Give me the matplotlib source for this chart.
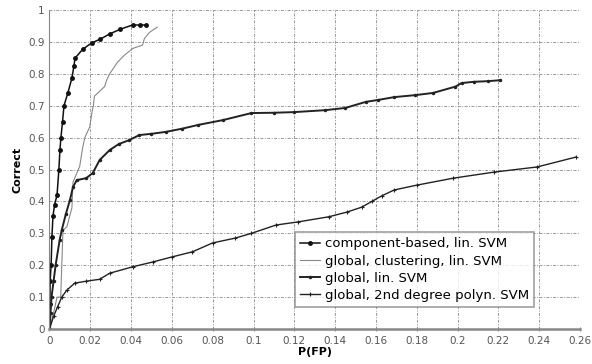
import matplotlib
matplotlib.use("Agg")
import matplotlib.pyplot as plt
import numpy as np

# ROC-like curves
comp_x = [0, 0.0002, 0.0003, 0.0008, 0.0012, 0.0017, 0.0025, 0.0037, 0.0046, 0.0051,
          0.0056, 0.0064, 0.0071, 0.009, 0.011, 0.012, 0.0125, 0.0163, 0.0207, 0.025,
          0.0295, 0.0348, 0.0407, 0.0445, 0.0475]
comp_y = [0, 0.08, 0.15, 0.2, 0.29, 0.354, 0.39, 0.42, 0.5, 0.56,
          0.6, 0.65, 0.7, 0.74, 0.787, 0.825, 0.849, 0.877, 0.897, 0.909,
          0.925, 0.94, 0.953, 0.953, 0.953]

clust_x = [0, 0.002, 0.0037, 0.0055, 0.0066, 0.0085, 0.011, 0.0115, 0.0148, 0.0163,
           0.0173, 0.0197, 0.021, 0.0215, 0.022, 0.0237, 0.027, 0.028, 0.0295, 0.0334,
           0.037, 0.041, 0.0456, 0.0465, 0.049, 0.0528]
clust_y = [0, 0.05, 0.1, 0.1, 0.31, 0.32, 0.38, 0.46, 0.51, 0.57,
           0.6, 0.633, 0.686, 0.7, 0.73, 0.74, 0.76, 0.78, 0.80, 0.837,
           0.86, 0.88, 0.89, 0.91, 0.93, 0.946]

glin_x = [0, 0.0005, 0.001, 0.002, 0.003, 0.005, 0.006, 0.008, 0.01, 0.0115,
          0.0134, 0.018, 0.0212, 0.0246, 0.0295, 0.034, 0.039, 0.044, 0.05, 0.057,
          0.065, 0.073, 0.085, 0.099, 0.11, 0.12, 0.135, 0.145, 0.155, 0.161,
          0.169, 0.179, 0.188, 0.199, 0.202, 0.208, 0.215, 0.221]
glin_y = [0, 0.05, 0.1, 0.15, 0.2, 0.28, 0.31, 0.36, 0.404, 0.445,
          0.467, 0.473, 0.489, 0.53, 0.561, 0.58, 0.592, 0.608, 0.612, 0.618,
          0.628, 0.64, 0.655, 0.677, 0.678, 0.68, 0.686, 0.693, 0.712, 0.718,
          0.727, 0.733, 0.74, 0.76, 0.771, 0.775, 0.777, 0.78]

poly_x = [0, 0.002, 0.004, 0.006, 0.0085, 0.0124, 0.018, 0.0246, 0.0295, 0.0407,
          0.0505, 0.060, 0.070, 0.080, 0.091, 0.099, 0.111, 0.122, 0.137, 0.146,
          0.153, 0.158, 0.163, 0.169, 0.180, 0.198, 0.218, 0.239, 0.258]
poly_y = [0, 0.04, 0.07, 0.1, 0.122, 0.144, 0.15, 0.156, 0.175, 0.195,
          0.21, 0.226, 0.242, 0.27, 0.285, 0.30, 0.326, 0.336, 0.352, 0.367,
          0.382, 0.40, 0.418, 0.436, 0.451, 0.473, 0.492, 0.508, 0.539]

labels = ["component-based, lin. SVM", "global, clustering, lin. SVM",
          "global, lin. SVM", "global, 2nd degree polyn. SVM"]

xticks = np.arange(0, 0.261, 0.02)
yticks = np.arange(0, 1.01, 0.1)

fig = plt.figure(figsize=(5.92, 3.64), dpi=100)
ax = fig.add_axes([0.0836, 0.096, 0.896, 0.8765])

ax.plot(comp_x, comp_y, color="#111111", lw=1.1, marker=".", ms=5, label=labels[0])
ax.plot(clust_x, clust_y, color="#888888", lw=0.8, label=labels[1])
ax.plot(glin_x, glin_y, color="#222222", lw=1.4, marker=".", ms=3, label=labels[2])
ax.plot(poly_x, poly_y, color="#222222", lw=1.0, marker="+", ms=3, mew=0.8, label=labels[3])

ax.set_xlim(0, 0.26)
ax.set_ylim(0, 1)
ax.set_xticks(xticks)
ax.set_xticklabels(["0" if t == 0 else f"{t:g}" for t in np.round(xticks, 2)])
ax.set_yticks(yticks)
ax.set_yticklabels(["0" if t == 0 else f"{t:g}" for t in np.round(yticks, 1)])
ax.grid(True, color="#999999", lw=0.7, linestyle=(0, (3, 1.5, 1, 1.5)))

for s in ["top", "right"]:
    ax.spines[s].set_visible(False)
ax.spines["left"].set_color("#888888")
ax.spines["bottom"].set_color("#888888")
ax.spines["bottom"].set_linewidth(1.8)
ax.tick_params(axis="both", colors="#888888", labelcolor="#555555", labelsize=7.5,
               length=3, direction="inout")
ax.tick_params(axis="y", length=0)

ax.set_xlabel("P(FP)", fontsize=8, fontweight="bold", labelpad=1)
ax.set_ylabel("Correct", fontsize=8, fontweight="bold", labelpad=4)

leg = ax.legend(loc="lower left", bbox_to_anchor=(0.462, 0.068), fontsize=9.5,
                frameon=True, fancybox=False, handlelength=1.5, handletextpad=0.4,
                borderpad=0.4, labelspacing=0.32, borderaxespad=0)
leg.get_frame().set_edgecolor("#888888")
leg.get_frame().set_linewidth(1.2)

fig.savefig("out.png", dpi=100)
